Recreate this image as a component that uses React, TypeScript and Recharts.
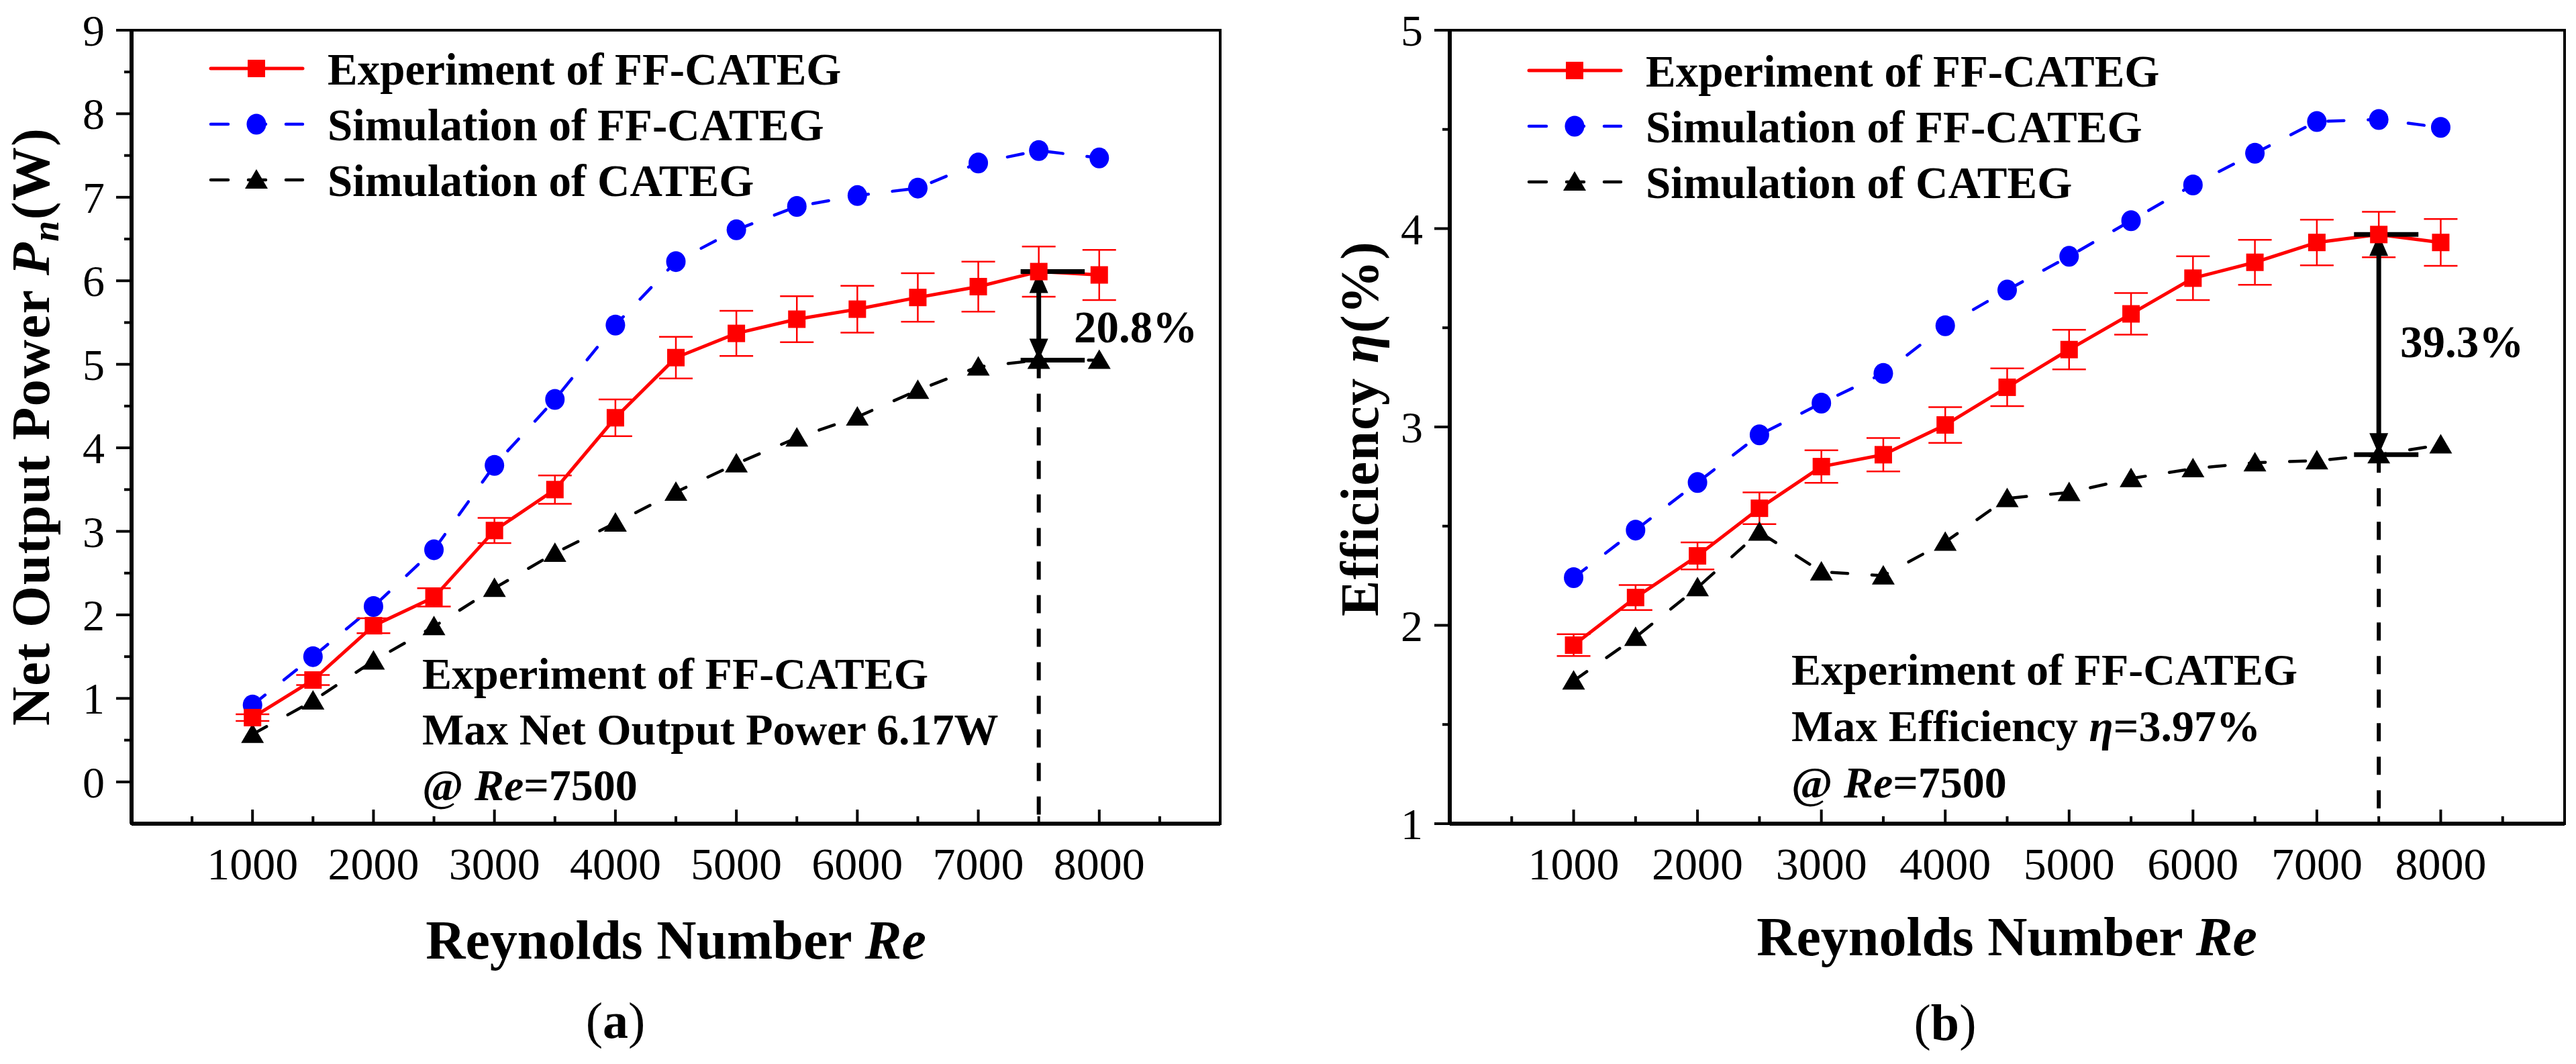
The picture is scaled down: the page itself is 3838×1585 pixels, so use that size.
import React from 'react';
import {
  LineChart, Line, XAxis, YAxis, ErrorBar, ReferenceLine, ReferenceArea, Legend,
} from 'recharts';

// Reynolds numbers shared by both panels
const reynolds = [1000, 1500, 2000, 2500, 3000, 3500, 4000, 4500, 5000, 5500, 6000, 6500, 7000, 7500, 8000];

// (a) net output power, W
const powerExp      = [0.77, 1.22, 1.87, 2.21, 3.01, 3.50, 4.36, 5.08, 5.37, 5.54, 5.66, 5.80, 5.93, 6.11, 6.07];
const powerExpErr   = [0.04, 0.06, 0.09, 0.11, 0.15, 0.17, 0.22, 0.25, 0.27, 0.275, 0.28, 0.29, 0.30, 0.30, 0.30];
const powerSimFF    = [0.92, 1.50, 2.10, 2.78, 3.79, 4.58, 5.47, 6.23, 6.61, 6.89, 7.02, 7.11, 7.41, 7.56, 7.47];
const powerSimCATEG = [0.57, 0.97, 1.45, 1.86, 2.32, 2.74, 3.10, 3.47, 3.81, 4.12, 4.37, 4.69, 4.97, 5.05, 5.05];

// (b) efficiency, %
const effExp      = [1.90, 2.14, 2.35, 2.59, 2.80, 2.86, 3.01, 3.20, 3.39, 3.57, 3.75, 3.83, 3.93, 3.97, 3.93];
const effExpErr   = [0.055, 0.063, 0.068, 0.08, 0.082, 0.084, 0.09, 0.095, 0.10, 0.105, 0.11, 0.113, 0.115, 0.115, 0.118];
const effSimFF    = [2.24, 2.48, 2.72, 2.96, 3.12, 3.27, 3.51, 3.69, 3.86, 4.04, 4.22, 4.38, 4.54, 4.55, 4.51];
const effSimCATEG = [1.72, 1.94, 2.19, 2.47, 2.27, 2.25, 2.42, 2.64, 2.67, 2.74, 2.79, 2.82, 2.83, 2.86, 2.91];

// ticks
const reTicks    = [500, 1000, 1500, 2000, 2500, 3000, 3500, 4000, 4500, 5000, 5500, 6000, 6500, 7000, 7500, 8000, 8500];
const powerTicks = [0, 0.5, 1, 1.5, 2, 2.5, 3, 3.5, 4, 4.5, 5, 5.5, 6, 6.5, 7, 7.5, 8, 8.5, 9];
const effTicks   = [1, 1.5, 2, 2.5, 3, 3.5, 4, 4.5, 5];

const seriesNames = ['Experiment of FF-CATEG', 'Simulation of FF-CATEG', 'Simulation of CATEG'];
const seriesColors = ['#ff0000', '#0000ff', '#000000'];
const seriesDash = [undefined, '24 36', '24 36'];
const seriesWidth = [5, 4.5, 4.5];
const seriesMarkers = ['square', 'circle', 'triangle'];

const SERIF = "'Liberation Serif', 'Times New Roman', serif";
const W = 3838;
const H = 1585;
const PANEL_W = 1919;

function toRows(exp: number[], err: number[], ff: number[], cat: number[]) {
  return reynolds.map((re, i) => ({ re, exp: exp[i], err: err[i], ff: ff[i], cat: cat[i] }));
}

function Marker({ kind, cx, cy, color }: { kind: string; cx: number; cy: number; color: string }) {
  if (kind === 'square') return <rect x={cx - 13} y={cy - 13} width={26} height={26} fill={color} />;
  if (kind === 'circle') return <ellipse cx={cx} cy={cy} rx={14.5} ry={15.5} fill={color} />;
  return <polygon points={`${cx},${cy - 16} ${cx - 17},${cy + 13} ${cx + 17},${cy + 13}`} fill={color} />;
}

function dotFor(i: number) {
  return (p: any) => (
    <Marker key={`d${i}-${p.index}`} kind={seriesMarkers[i]} cx={p.cx} cy={p.cy} color={seriesColors[i]} />
  );
}

function XTick(props: any) {
  const { x, y, payload } = props;
  const major = payload.value % 1000 === 0;
  return (
    <g>
      <line x1={x} x2={x} y1={y} y2={y - (major ? 21 : 11)} stroke="#000" strokeWidth={4} />
      {major && (
        <text x={x} y={y + 83} textAnchor="middle" fontFamily={SERIF} fontSize={68} fill="#000">
          {payload.value}
        </text>
      )}
    </g>
  );
}

function YTick(props: any) {
  const { x, y, payload } = props;
  const major = Number.isInteger(payload.value);
  return (
    <g>
      <line x1={x} x2={x - (major ? 23 : 11)} y1={y} y2={y} stroke="#000" strokeWidth={4} />
      {major && (
        <text x={x - 40} y={y + 23} textAnchor="end" fontFamily={SERIF} fontSize={66} fill="#000">
          {payload.value}
        </text>
      )}
    </g>
  );
}

function DoubleArrow(props: any) {
  const { x1, y1, y2 } = props;
  const top = Math.min(y1, y2);
  const bot = Math.max(y1, y2);
  const h = 32;
  const w = 14;
  return (
    <g>
      <line x1={x1} x2={x1} y1={top + h - 2} y2={bot - h + 2} stroke="#000" strokeWidth={7} />
      <polygon points={`${x1},${top} ${x1 - w},${top + h} ${x1 + w},${top + h}`} fill="#000" />
      <polygon points={`${x1},${bot} ${x1 - w},${bot - h} ${x1 + w},${bot - h}`} fill="#000" />
    </g>
  );
}

function LegendBox() {
  return (
    <svg width={900} height={250} style={{ display: 'block', overflow: 'visible' }}>
      {seriesNames.map((name, i) => {
        const cy = 42 + i * 83;
        return (
          <g key={name}>
            <line
              x1={2} x2={139} y1={cy} y2={cy} stroke={seriesColors[i]} strokeWidth={seriesWidth[i]}
              strokeDasharray={seriesDash[i] ? '26 30' : undefined} strokeLinecap="round"
            />
            <Marker kind={seriesMarkers[i]} cx={70} cy={cy} color={seriesColors[i]} />
            <text x={176} y={cy + 24} fontFamily={SERIF} fontWeight="bold" fontSize={67} fill="#000">{name}</text>
          </g>
        );
      })}
    </svg>
  );
}

type PanelProps = {
  left: number;
  margin: { top: number; right: number; bottom: number; left: number };
  rows: ReturnType<typeof toRows>;
  yDomain: [number, number];
  yTicks: number[];
  legendPos: { left: number; top: number };
  hLine: [number, number];
};

function Panel({ left, margin, rows, yDomain, yTicks, legendPos, hLine }: PanelProps) {
  const peak = rows.find((r) => r.re === 7500)!;
  return (
    <div style={{ position: 'absolute', left, top: 0 }}>
      <LineChart width={PANEL_W} height={H} data={rows} margin={margin}>
        <XAxis
          type="number"
          dataKey="re"
          domain={[0, 9000]}
          ticks={reTicks}
          interval={0}
          tickSize={0}
          tickMargin={0}
          tickLine={false}
          tick={<XTick />}
          axisLine={{ stroke: '#000', strokeWidth: 6 }}
          height={100}
          allowDataOverflow
        />
        <YAxis
          type="number"
          domain={yDomain}
          ticks={yTicks}
          interval={0}
          tickSize={0}
          tickMargin={0}
          tickLine={false}
          tick={<YTick />}
          axisLine={{ stroke: '#000', strokeWidth: 6 }}
          width={150}
          allowDataOverflow
        />
        <ReferenceArea
          x1={0} x2={9000} y1={yDomain[0]} y2={yDomain[1]}
          fill="none" stroke="#000" strokeWidth={4} fillOpacity={0}
        />
        <Line
          type="linear" dataKey="ff" name={seriesNames[1]} stroke={seriesColors[1]} strokeWidth={seriesWidth[1]}
          strokeDasharray={seriesDash[1]} strokeLinecap="round" dot={dotFor(1)} activeDot={false} isAnimationActive={false}
        />
        <Line
          type="linear" dataKey="cat" name={seriesNames[2]} stroke={seriesColors[2]} strokeWidth={seriesWidth[2]}
          strokeDasharray={seriesDash[2]} strokeLinecap="round" dot={dotFor(2)} activeDot={false} isAnimationActive={false}
        />
        <Line
          type="linear" dataKey="exp" name={seriesNames[0]} stroke={seriesColors[0]} strokeWidth={seriesWidth[0]}
          dot={dotFor(0)} activeDot={false} isAnimationActive={false}
        >
          <ErrorBar dataKey="err" direction="y" width={25} stroke={seriesColors[0]} strokeWidth={2.5} isAnimationActive={false} />
        </Line>
        <ReferenceLine
          segment={[{ x: 7500, y: peak.cat }, { x: 7500, y: yDomain[0] }]}
          stroke="#000" strokeWidth={6} strokeDasharray="27 23"
        />
        <ReferenceLine
          segment={[{ x: hLine[0], y: peak.exp }, { x: hLine[1], y: peak.exp }]}
          stroke="#000" strokeWidth={7}
        />
        <ReferenceLine
          segment={[{ x: hLine[0], y: peak.cat }, { x: hLine[1], y: peak.cat }]}
          stroke="#000" strokeWidth={7}
        />
        <ReferenceLine
          segment={[{ x: 7500, y: peak.exp }, { x: 7500, y: peak.cat }]}
          shape={DoubleArrow}
        />
        <Legend
          layout="vertical"
          align="center"
          verticalAlign="middle"
          content={<LegendBox />}
          wrapperStyle={{ left: legendPos.left, top: legendPos.top, width: 900 }}
        />
      </LineChart>
    </div>
  );
}

const bold = { fontFamily: SERIF, fontWeight: 'bold' as const, fill: '#000' };

export default function App() {
  const powerRows = toRows(powerExp, powerExpErr, powerSimFF, powerSimCATEG);
  const effRows = toRows(effExp, effExpErr, effSimFF, effSimCATEG);

  return (
    <div style={{ position: 'absolute', left: 0, top: 0, width: W, height: H, background: '#fff', overflow: 'hidden' }}>
      <Panel
        left={0}
        margin={{ top: 45, right: 101, bottom: 258, left: 46 }}
        rows={powerRows}
        yDomain={[-0.5, 9]}
        yTicks={powerTicks}
        legendPos={{ left: 312, top: 60 }}
        hLine={[7350, 7880]}
      />
      <Panel
        left={PANEL_W}
        margin={{ top: 45, right: 17, bottom: 258, left: 91 }}
        rows={effRows}
        yDomain={[1, 5]}
        yTicks={effTicks}
        legendPos={{ left: 357, top: 63 }}
        hLine={[7300, 7820]}
      />

      <svg width={W} height={H} style={{ position: 'absolute', left: 0, top: 0, pointerEvents: 'none' }}>
        {/* (a) titles and notes */}
        <text
          transform="translate(73,636) rotate(-90)" textAnchor="middle" fontSize={80}
          textLength={890} lengthAdjust="spacing" {...bold}
        >
          Net Output Power <tspan fontStyle="italic">P</tspan>
          <tspan fontStyle="italic" fontSize={56} dy={14}>n</tspan>
          <tspan dy={-14}>(W)</tspan>
        </text>
        <text x={1007} y={1428} textAnchor="middle" fontSize={82} {...bold}>
          Reynolds Number <tspan fontStyle="italic">Re</tspan>
        </text>
        <text x={917} y={1546} textAnchor="middle" fontSize={76} fontFamily={SERIF} fill="#000">
          (<tspan fontWeight="bold">a</tspan>)
        </text>
        <text x={629} y={1026} fontSize={66} {...bold}>Experiment of FF-CATEG</text>
        <text x={629} y={1109} fontSize={66} {...bold}>Max Net Output Power 6.17W</text>
        <text x={629} y={1192} fontSize={66} {...bold}>
          @ <tspan fontStyle="italic">Re</tspan>=7500
        </text>
        <text x={1600} y={510} fontSize={67} {...bold}>20.8%</text>

        {/* (b) titles and notes */}
        <text
          transform="translate(2053,639) rotate(-90)" textAnchor="middle" fontSize={80}
          textLength={558} lengthAdjust="spacing" {...bold}
        >
          Efficiency <tspan fontStyle="italic">η</tspan>(%)
        </text>
        <text x={2990} y={1423} textAnchor="middle" fontSize={82} {...bold}>
          Reynolds Number <tspan fontStyle="italic">Re</tspan>
        </text>
        <text x={2898} y={1549} textAnchor="middle" fontSize={76} fontFamily={SERIF} fill="#000">
          (<tspan fontWeight="bold">b</tspan>)
        </text>
        <text x={2669} y={1020} fontSize={66} {...bold}>Experiment of FF-CATEG</text>
        <text x={2669} y={1104} fontSize={66} {...bold}>
          Max Efficiency <tspan fontStyle="italic">η</tspan>=3.97%
        </text>
        <text x={2669} y={1188} fontSize={66} {...bold}>
          @ <tspan fontStyle="italic">Re</tspan>=7500
        </text>
        <text x={3576} y={532} fontSize={67} {...bold}>39.3%</text>
      </svg>
    </div>
  );
}
